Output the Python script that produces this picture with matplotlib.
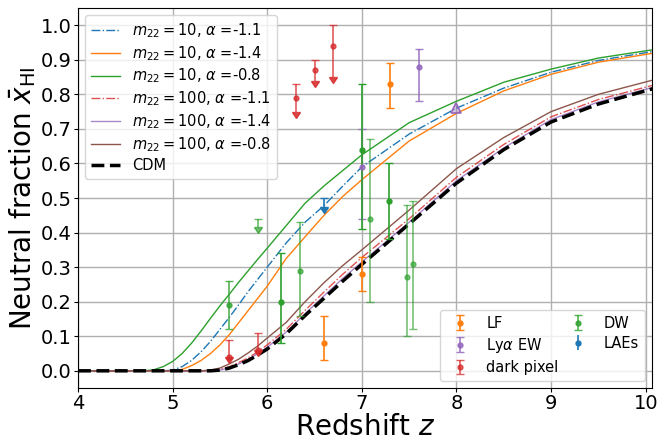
import numpy as np
import matplotlib
matplotlib.use('Agg')
import matplotlib.pyplot as plt
from matplotlib.lines import CARETDOWNBASE

# model curves
z_grid = [4.0, 4.7, 4.8, 4.9, 5.0, 5.1, 5.2, 5.3, 5.4, 5.5, 5.6, 5.7, 5.8, 5.9, 6.0,
          6.2, 6.4, 6.6, 6.8, 7.0, 7.5, 8.0, 8.5, 9.0, 9.5, 10.1]
xhi_m10_a11 = [0, 0, 0, 0, 0.002, 0.012, 0.03, 0.055, 0.085, 0.12, 0.155, 0.192, 0.23,
               0.265, 0.30, 0.37, 0.43, 0.478, 0.535, 0.59, 0.685, 0.76, 0.818, 0.864,
               0.898, 0.925]
xhi_m10_a14 = [0, 0, 0, 0, 0, 0.004, 0.015, 0.03, 0.05, 0.075, 0.105, 0.14, 0.175,
               0.21, 0.245, 0.325, 0.388, 0.45, 0.505, 0.553, 0.665, 0.745, 0.81, 0.858,
               0.893, 0.92]
xhi_m10_a08 = [0, 0, 0.003, 0.012, 0.027, 0.05, 0.08, 0.115, 0.152, 0.188, 0.222, 0.257,
               0.29, 0.323, 0.355, 0.42, 0.485, 0.535, 0.58, 0.625, 0.718, 0.78, 0.835,
               0.873, 0.905, 0.93]
xhi_m100_a11 = [0, 0, 0, 0, 0, 0, 0, 0, 0, 0.004, 0.012, 0.024, 0.038, 0.055, 0.075,
                0.12, 0.175, 0.228, 0.28, 0.328, 0.44, 0.56, 0.655, 0.735, 0.785, 0.828]
xhi_m100_a14 = [0, 0, 0, 0, 0, 0, 0, 0, 0, 0.002, 0.009, 0.02, 0.033, 0.05, 0.068,
                0.112, 0.165, 0.217, 0.268, 0.315, 0.43, 0.55, 0.645, 0.727, 0.778, 0.822]
xhi_m100_a08 = [0, 0, 0, 0, 0, 0, 0, 0, 0.002, 0.008, 0.02, 0.034, 0.052, 0.072, 0.095,
                0.14, 0.20, 0.255, 0.305, 0.35, 0.465, 0.585, 0.675, 0.75, 0.80, 0.843]
xhi_cdm = [0, 0, 0, 0, 0, 0, 0, 0, 0, 0.002, 0.008, 0.018, 0.03, 0.046, 0.063,
           0.107, 0.16, 0.21, 0.26, 0.308, 0.425, 0.543, 0.64, 0.72, 0.772, 0.818]

# observations
lf_z = [6.6, 7.0, 7.3]
lf_x = [0.08, 0.28, 0.83]
lf_lo = [0.05, 0.05, 0.07]
lf_hi = [0.08, 0.05, 0.06]

ew_z = [7.0, 7.6]
ew_x = [0.59, 0.88]
ew_lo = [0.15, 0.10]
ew_hi = [0.11, 0.05]
ew_limit_z = [8.0]
ew_limit_x = [0.76]

dp_z = [5.6, 5.9, 6.3, 6.5, 6.7]
dp_x = [0.04, 0.06, 0.79, 0.87, 0.94]
dp_lo = [0.0, 0.0, 0.04, 0.03, 0.09]
dp_hi = [0.05, 0.05, 0.04, 0.03, 0.06]

dw_z = [5.6, 6.15, 6.35, 7.0, 7.09, 7.29, 7.48, 7.54]
dw_x = [0.19, 0.20, 0.29, 0.64, 0.44, 0.49, 0.27, 0.31]
dw_lo = [0.07, 0.12, 0.13, 0.23, 0.24, 0.11, 0.17, 0.19]
dw_hi = [0.07, 0.14, 0.14, 0.19, 0.23, 0.11, 0.21, 0.18]
dw_alpha = [0.8, 1.0, 0.7, 1.0, 0.65, 1.0, 0.65, 0.65]
dw_limit_z = [5.9]
dw_limit_x = [0.44]
dw_limit_lo = [0.025]

lae_z = [6.6]
lae_x = [0.50]
lae_lo = [0.025]

fig = plt.figure(figsize=(6.67, 4.41), dpi=100)
ax = fig.add_subplot(1, 1, 1)
fig.subplots_adjust(left=0.117, right=0.978, bottom=0.12, top=0.982)

l1, = ax.plot(z_grid, xhi_m10_a11, '-.', color='C0', lw=1, label=r'$m_{22}=10$, $\alpha$ =-1.1')
l2, = ax.plot(z_grid, xhi_m10_a14, '-', color='C1', lw=1, label=r'$m_{22}=10$, $\alpha$ =-1.4')
l3, = ax.plot(z_grid, xhi_m10_a08, '-', color='C2', lw=1, label=r'$m_{22}=10$, $\alpha$ =-0.8')
l4, = ax.plot(z_grid, xhi_m100_a11, '-.', color='C3', lw=1, alpha=0.8, label=r'$m_{22}=100$, $\alpha$ =-1.1')
l5, = ax.plot(z_grid, xhi_m100_a14, '-', color='C4', lw=1, alpha=0.8, label=r'$m_{22}=100$, $\alpha$ =-1.4')
l6, = ax.plot(z_grid, xhi_m100_a08, '-', color='C5', lw=1, label=r'$m_{22}=100$, $\alpha$ =-0.8')
l7, = ax.plot(z_grid, xhi_cdm, '--', color='k', lw=2.5, label='CDM')

eb = dict(fmt='o', ms=3.5, capsize=3, elinewidth=1.2)

h_lf = ax.errorbar(lf_z, lf_x, yerr=[lf_lo, lf_hi], color='C1', label='LF', **eb)
h_ew = ax.errorbar(ew_z, ew_x, yerr=[ew_lo, ew_hi], color='C4', alpha=0.85,
                   label=r'Ly$\alpha$ EW', **eb)
ax.plot(ew_limit_z, ew_limit_x, '^', mec='C4', mfc=(0.58, 0.4, 0.74, 0.35), ms=7,
        mew=1.2, zorder=5)

h_dp = ax.errorbar(dp_z, dp_x, yerr=[dp_lo, dp_hi], color='C3', alpha=0.75,
                   label='dark pixel', **eb)
ax.plot(dp_z, np.array(dp_x) - np.array(dp_lo), ls='none', marker=CARETDOWNBASE,
        color='C3', ms=6, alpha=0.85)

h_dw = None
for i in range(len(dw_z)):
    h = ax.errorbar([dw_z[i]], [dw_x[i]], yerr=[[dw_lo[i]], [dw_hi[i]]], color='C2',
                    alpha=dw_alpha[i], **eb)
    if h_dw is None:
        h_dw = h
ax.errorbar(dw_limit_z, dw_limit_x, yerr=[dw_limit_lo, [0]], color='C2', alpha=0.7,
            fmt='none', capsize=3, elinewidth=1.2)
ax.plot(dw_limit_z, np.array(dw_limit_x) - np.array(dw_limit_lo), ls='none',
        marker=CARETDOWNBASE, color='C2', ms=6, alpha=0.7)

ax.errorbar(lae_z, lae_x, yerr=[lae_lo, [0]], color='C0', fmt='none',
            capsize=3, elinewidth=1.2)
ax.plot(lae_z, np.array(lae_x) - np.array(lae_lo), ls='none', marker=CARETDOWNBASE,
        color='C0', ms=6)
h_lae = ax.errorbar([], [], yerr=[], color='C0', **eb)

ax.set_xlim(4, 10.07)
ax.set_ylim(-0.05, 1.05)
ax.set_xticks([4, 5, 6, 7, 8, 9, 10])
ax.set_yticks(np.arange(0, 1.01, 0.1))
ax.grid(True, color='#b0b0b0', lw=1)
ax.set_axisbelow(True)
ax.tick_params(labelsize=14, length=3, pad=1.5)
ax.set_xlabel(r'Redshift $z$', fontsize=20, labelpad=0)
ax.set_ylabel(r'Neutral fraction $\bar{x}_{\rm HI}$', fontsize=20, labelpad=2)

leg1 = ax.legend(handles=[l1, l2, l3, l4, l5, l6, l7], loc='upper left', fontsize=10.5,
                 labelspacing=0.28)
ax.add_artist(leg1)
ax.legend(handles=[h_lf, h_ew, h_dp, h_dw, h_lae],
          labels=['LF', r'Ly$\alpha$ EW', 'dark pixel', 'DW', 'LAEs'],
          loc='lower right', ncol=2, fontsize=10.5, labelspacing=0.35,
          columnspacing=0.3)

fig.savefig('out.png', dpi=100)
